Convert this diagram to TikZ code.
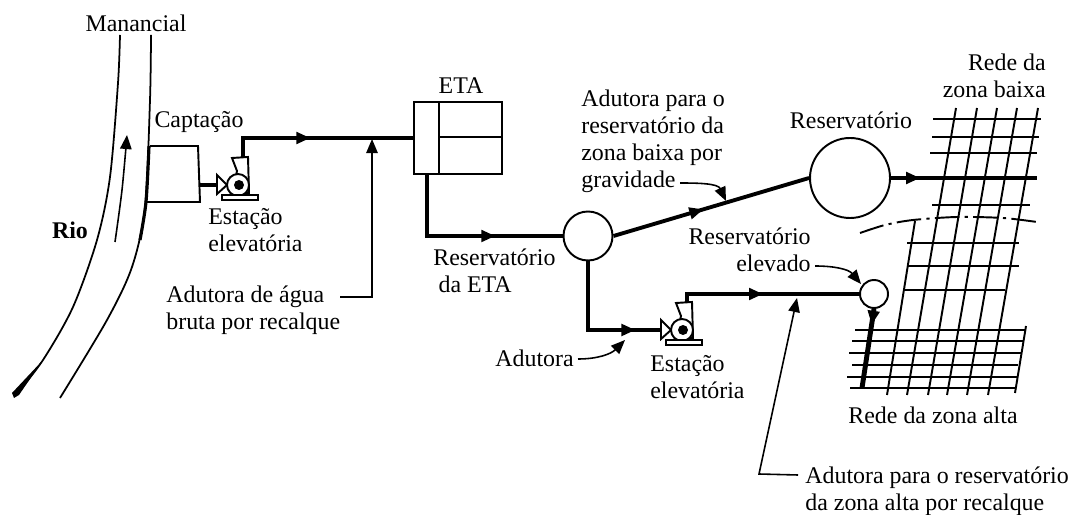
\documentclass[tikz,border=0pt]{standalone}
\usepackage{fontspec}
\setmainfont{Liberation Serif}
\usetikzlibrary{arrows.meta,decorations.markings}
\begin{document}
\begin{tikzpicture}[
		x=0.2mm, y=-0.2mm,
		font=\fontsize{13.6}{15.4}\selectfont,
		lbl/.style = {inner sep=0pt},
		lbll/.style = {inner sep=0pt, anchor=west, align=left},
		lblr/.style = {inner sep=0pt, anchor=east, align=right},
		box/.style = {rectangle, draw, line width=1.1pt, minimum width=17.6mm, minimum height=14.4mm, inner sep=0pt},
		res/.style = {circle, draw, line width=1.1pt, inner sep=0pt},
		bank/.style = {line width=1pt},
		pipe/.style = {line width=2.2pt},
		heavy/.style = {line width=2.8pt},
		note/.style = {line width=0.9pt, -{Triangle[length=8pt,width=6.5pt]}},
		flow/.style = {postaction={decorate}, decoration={markings, mark=at position #1 with {\arrow{Triangle[length=8pt,width=6.5pt]}}}},
		gridline/.style = {line width=1.1pt},
		pics/pump/.style = {code={
			\draw[line width=1.1pt, fill=white] (-6,-27) -- (10,-28) -- (11,8) -- (-6,8) -- (-1,-14) -- cycle;
			\draw[line width=1.1pt, fill=white] (-21,-10) -- (-21,9) -- (-11,0) -- cycle;
			\draw[line width=1.1pt] (-11,0) -- (-5,-9) (-11,0) -- (-5,9);
			\draw[line width=1.1pt, fill=white] (0,0) circle (11);
			\fill (1,0) circle (5);
			\draw[line width=1.1pt, fill=white] (-16,10) rectangle (20,15);
			\coordinate (-in) at (-21,0);
			\coordinate (-out) at (5,-27);
		}},
		]
		\useasboundingbox (0,0) rectangle (1074,515);
		
		%River
		\draw[bank] plot[smooth] coordinates {(120,35) (118,83) (110,177) (97,240) (73,307) (43,360) (15,396)};
		\draw[bank] plot[smooth] coordinates {(151,35) (150,100) (145,207) (132,267) (107,320) (60,398)};
		\draw[line width=1.8pt] plot[smooth] coordinates {(149,146) (146,202) (140,240)};
		\fill (43,360) -- (12,393) -- (14,398) -- (19,395) -- cycle;
		\draw[line width=0.9pt, -{Triangle[length=8pt,width=6.5pt]}] plot[smooth] coordinates {(115,242) (122,190) (127,135)};
		
		%Nodes
		\node[lbl]	(manancial)	at	(136,23)	{Manancial};
		\node[lbl, font=\fontsize{13.6}{15.4}\selectfont\bfseries]	(rio)	at	(70,230)	{Rio};
		\node[lbl]	(captacao)	at	(199,122)	{Captação};
		\node[lbll]	(estacao1)	at	(208,230)	{Estação\\elevatória};
		\node[lbll]	(agua)	at	(166,310)	{Adutora de água\\bruta por recalque};
		\node[lbl]	(etalabel)	at	(461,86)	{ETA};
		\node[lbll]	(resetalabel)	at	(433,271)	{Reservatório\\\hspace*{3pt}da ETA};
		\node[lbll]	(baixa)	at	(581,141)	{Adutora para o\\reservatório da\\zona baixa por\\gravidade};
		\node[lbl]	(res2label)	at	(851,120)	{Reservatório};
		\node[lblr]	(redebaixa)	at	(1046,76)	{Rede da\\zona baixa};
		\node[lblr]	(elevado)	at	(811,250)	{Reservatório\\elevado};
		\node[lbll]	(adutora)	at	(495,358)	{Adutora};
		\node[lbll]	(estacao2)	at	(650,377)	{Estação\\elevatória};
		\node[lbl]	(redealta)	at	(933,415)	{Rede da zona alta};
		\node[lbll]	(alta)	at	(805,491)	{Adutora para o reservatório\\da zona alta por recalque};
		
		\node[box]	(eta)	at	(458,138)	{};
		\node[res, minimum size=9.8mm]	(res1)	at	(588,236)	{};
		\node[res, minimum size=16mm]	(res2)	at	(850,178)	{};
		\node[res, minimum size=5.6mm]	(res3)	at	(874,294)	{};
		
		\coordinate	(intaketl)	at	(150,146);
		\coordinate	(intaketr)	at	(198,146);
		\coordinate	(intakebr)	at	(200,202);
		\coordinate	(intakebl)	at	(146,202);
		\coordinate	(intake)	at	(199,185);
		\coordinate	(etaout)	at	(427,174);
		\coordinate	(main)	at	(1037,178);
		\coordinate	(highend)	at	(862,388);
		\coordinate	(aguafoot)	at	(340,297);
		\coordinate	(aguatip)	at	(372,139);
		\coordinate	(gravfoot)	at	(680,183);
		\coordinate	(gravtip)	at	(726,201);
		\coordinate	(elevfoot)	at	(815,266);
		\coordinate	(elevtip)	at	(861,284);
		\coordinate	(adutfoot)	at	(578,359);
		\coordinate	(aduttip)	at	(625,340);
		\coordinate	(altafoot)	at	(798,475);
		\coordinate	(altacorner)	at	(759,474);
		\coordinate	(altatip)	at	(797,298);
		
		\pic	(p1)	at	(238,185)	{pump};
		\pic	(p2)	at	(682,330)	{pump};
		
		%Network
		\foreach \tx/\ty/\bx in {915/221/887, 956/108/907, 977/108/928, 997/108/947, 1017/108/967, 1038/108/988}
			\draw[gridline] (\tx,\ty) -- (\bx,395);
		\draw[gridline] (1026,326) -- (1015,393);
		\foreach \ya/\xa/\xb in {119/933/1041, 137/932/1039, 153/930/1037, 205/932/1030, 243/907/1019, 266/908/1019, 290/903/1005, 330/855/1025, 341/852/1023, 353/849/1022, 365/852/1018, 377/847/1017, 388/850/1015}
			\draw[gridline] (\xa,\ya) -- (\xb,\ya);
		\draw[gridline, dash pattern=on 14pt off 3pt on 1.8pt off 3pt] plot[smooth] coordinates {(860,233) (885,225) (913,220) (957,217) (1003,218) (1037,222)};
		
		%Buildings
		\draw[line width=1.1pt] (intaketl) -- (intaketr) -- (intakebr) -- (intakebl);
		\draw[line width=1.1pt] (439,102) -- (439,174);
		\draw[line width=1.1pt] (439,137) -- (502,137);
		
		%Lines
		\draw[pipe]	(intake)	--	(p1-in);
		\draw[pipe, flow=.46]	(p1-out)	|-	(eta.west);
		\draw[pipe, flow=.66]	(etaout)	|-	(res1.west);
		\draw[pipe, flow=.46]	(res1.east)	--	(res2.west);
		\draw[heavy, flow=.2]	(res2.east)	--	(main);
		\draw[pipe, flow=.82]	(res1.south)	|-	(p2-in);
		\draw[pipe, flow=.47]	(p2-out)	|-	(res3.west);
		\draw[heavy, flow=.2]	(res3.south)	--	(highend);
		
		%Notes
		\draw[note]	(aguafoot)	-|	(aguatip);
		\draw[note]	(gravfoot)	to[out=0, in=115]	(gravtip);
		\draw[note]	(elevfoot)	to[out=0, in=130]	(elevtip);
		\draw[note]	(adutfoot)	to[out=0, in=225]	(aduttip);
		\draw[note]	(altafoot)	--	(altacorner)	--	(altatip);
		
	\end{tikzpicture}
\end{document}
